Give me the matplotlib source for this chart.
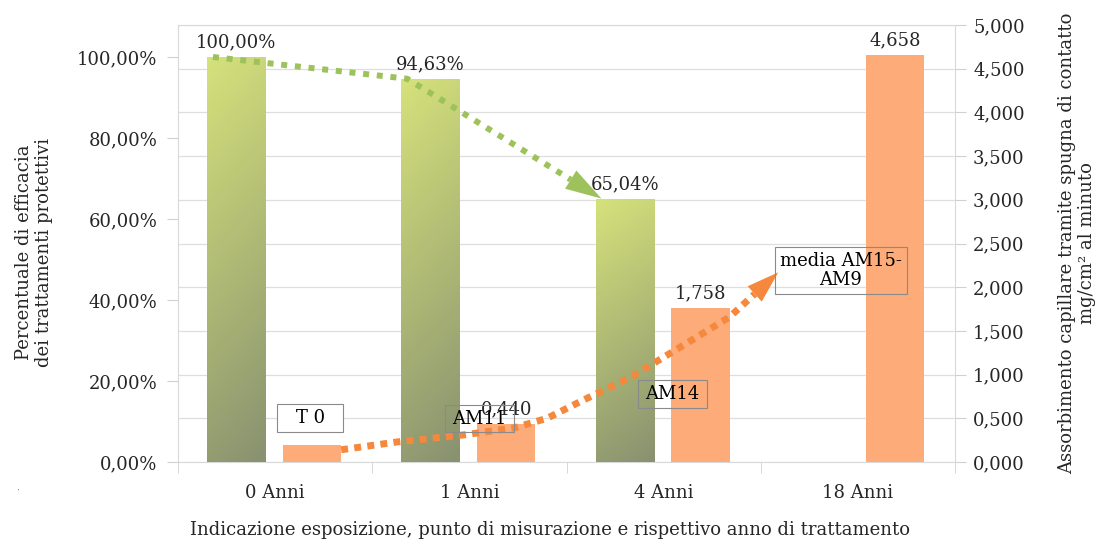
import numpy as np
import matplotlib
matplotlib.use("Agg")
import matplotlib.pyplot as plt
import matplotlib.colors as mcolors
from matplotlib.patches import Rectangle, FancyArrowPatch
from matplotlib.lines import Line2D
from matplotlib.transforms import ScaledTranslation

# ---- data ----
categories = ["0 Anni", "1 Anni", "4 Anni", "18 Anni"]
efficacy = [1.0000, 0.9463, 0.6504, np.nan]          # left axis (fraction)
absorption = [0.200, 0.440, 1.758, 4.658]             # right axis, mg/cm2 per minute
absorption_labeled = [False, True, True, True]
sample_tags = ["T 0", "AM11", "AM14", "media AM15-\nAM9"]

# ---- style / layout ----
TEXT = "#262626"
GRID = "#dedede"
FS = 13
plt.rcParams["font.family"] = ["DejaVu Serif"]

W_PX, H_PX = 1097, 543
fig = plt.figure(figsize=(W_PX / 100, H_PX / 100), dpi=100)
ax = fig.add_axes([178 / W_PX, 81 / H_PX, 777 / W_PX, 437 / H_PX])
ax2 = ax.twinx()
ax.set_zorder(ax2.get_zorder() + 1)
ax.patch.set_visible(False)

x = np.arange(len(categories))
BAR_W = 0.30
OFF_G, OFF_O = -0.20, 0.19

ax.set_xlim(-0.5, len(categories) - 0.5)
ax.set_ylim(0, 1.079)
ax2.set_ylim(0, 5.0)

# right axis: gridlines, orange bars
ax2.set_axisbelow(True)
ax2.set_yticks(np.arange(0, 5.01, 0.5))
ax2.yaxis.set_major_formatter(lambda v, p: f"{v:.3f}".replace(".", ","))
ax2.yaxis.grid(True, color=GRID, lw=0.9)
ax2.tick_params(axis="y", length=8, color="#d0d0d0", labelsize=FS,
                labelcolor=TEXT, pad=5)
for s in ax2.spines.values():
    s.set_color("#d9d9d9")
ax2.bar(x + OFF_O, absorption, BAR_W, color="#fcab79", zorder=2)

for xi, v, show in zip(x, absorption, absorption_labeled):
    if show:
        ax2.annotate(f"{v:.3f}".replace(".", ","), (xi + OFF_O, v),
                     xytext=(0, 4), textcoords="offset points",
                     ha="center", va="bottom", fontsize=FS, color=TEXT)

# left axis: gradient green bars
for s in ax.spines.values():
    s.set_visible(False)
ax.set_yticks(np.arange(0, 1.01, 0.2))
ax.yaxis.set_major_formatter(lambda v, p: f"{v * 100:.2f}%".replace(".", ","))
ax.tick_params(axis="y", length=8, color="#d0d0d0", labelsize=FS,
               labelcolor=TEXT, pad=7)
ax.set_xticks(x)
ax.set_xticklabels(categories)
ax.set_xticks(np.arange(-0.5, len(categories), 1.0), minor=True)
ax.tick_params(axis="x", which="major", length=0, labelsize=FS,
               labelcolor=TEXT, pad=16)
ax.tick_params(axis="x", which="minor", length=8, color="#d0d0d0")

top_c = np.array(mcolors.to_rgb("#d6e27b"))
bot_c = np.array(mcolors.to_rgb("#889170"))
ny, nx = 256, 32
vv = np.linspace(0, 1, ny)[:, None]
hh = np.linspace(0, 1, nx)[None, :]
f = np.clip(0.86 * vv + 0.14 * (1 - hh), 0, 1)
grad = bot_c[None, None, :] + (top_c - bot_c)[None, None, :] * f[..., None]

for xi, v in zip(x, efficacy):
    if np.isnan(v):
        continue
    x0 = xi + OFF_G - BAR_W / 2
    rect = Rectangle((x0, 0), BAR_W, v, fc="none", ec="none")
    ax.add_patch(rect)
    im = ax.imshow(grad, extent=(x0, x0 + BAR_W, 0, v), origin="lower",
                   aspect="auto", interpolation="bilinear", zorder=2)
    im.set_clip_path(rect)
    ax.annotate(f"{v * 100:.2f}%".replace(".", ","), (xi + OFF_G, v),
                xytext=(0, 4), textcoords="offset points",
                ha="center", va="bottom", fontsize=FS, color=TEXT)

ax.set_xlim(-0.5, len(categories) - 0.5)
ax.set_ylim(0, 1.079)


def dotted_arrow(axis, trans, pts, color, lw, head_len, head_w, gap):
    """Square-dotted polyline ending in a filled triangular head."""
    pts = np.asarray(pts, float)
    disp = trans.transform(pts)
    d = disp[-1] - disp[-2]
    d /= np.hypot(*d)
    base = disp[-1] - d * head_len * 100 / 72
    base_data = trans.inverted().transform(base)
    line_pts = np.vstack([pts[:-1], base_data])
    ln = Line2D(line_pts[:, 0], line_pts[:, 1], transform=trans, color=color,
                lw=lw, linestyle=(0, (1, gap)), dash_capstyle="butt",
                solid_joinstyle="miter", zorder=6)
    axis.add_line(ln)
    head = FancyArrowPatch(base_data, pts[-1], transform=trans,
                           arrowstyle=f"-|>,head_length={head_len},head_width={head_w}",
                           mutation_scale=1, color=color, lw=0,
                           shrinkA=0, shrinkB=0, zorder=6)
    axis.add_patch(head)


# efficacy trend arrow (through the green bar tops)
green_pts = [(xi - 0.32, v) for xi, v in zip(x[:3], efficacy[:3])]
dotted_arrow(ax, ax.transData, green_pts, "#9dc25b", 4.3, 26, 7.7, 1.3)

# absorption trend arrow
orange_pts = [(0.34, 0.14), (0.63, 0.23), (0.97, 0.31), (1.23, 0.39),
              (1.40, 0.50), (1.57, 0.69), (1.83, 0.97), (2.09, 1.32),
              (2.34, 1.66), (2.59, 2.17)]
dotted_arrow(ax, ax2.transData, orange_pts, "#f5883c", 5.0, 23, 7.5, 0.9)

# sample tags in outlined boxes
tag_pos = [(0.180, 0.503), (1.051, 0.492), (2.046, 0.778), (2.912, 2.191)]
tag_box = [(66, 28), (69, 27), (69, 28), (132, 47)]
tag_fill = ["white", "none", "none", "none"]
for tag, (tx, ty), (bw, bh), fc in zip(sample_tags, tag_pos, tag_box, tag_fill):
    tr = fig.dpi_scale_trans + ScaledTranslation(tx, ty, ax2.transData)
    ax.add_patch(Rectangle((-bw / 200, -bh / 200), bw / 100, bh / 100,
                           transform=tr, fc=fc, ec="#8a8a8a", lw=0.8,
                           zorder=7, clip_on=False))
    ax.text(tx, ty, tag, transform=ax2.transData, ha="center", va="center",
            fontsize=FS, color="black", zorder=8, linespacing=1.1)

# axis titles
fig.text(549.5 / W_PX, 1 - 530 / H_PX,
         "Indicazione esposizione, punto di misurazione e rispettivo anno di trattamento",
         ha="center", va="center", fontsize=FS, color=TEXT)
fig.text(34 / W_PX, 1 - 252 / H_PX,
         "Percentuale di efficacia\ndei trattamenti protettivi",
         ha="center", va="center", rotation=90, fontsize=FS, color=TEXT,
         linespacing=1.1)
fig.text(1077 / W_PX, 1 - 243 / H_PX,
         "Assorbimento capillare tramite spugna di contatto\nmg/cm² al minuto",
         ha="center", va="center", rotation=90, fontsize=FS, color=TEXT,
         linespacing=1.1)
fig.text(18 / W_PX, 1 - 490 / H_PX, "·", fontsize=7, color="#888888",
         ha="center", va="center")

fig.savefig("out.png", dpi=100, facecolor="white")
